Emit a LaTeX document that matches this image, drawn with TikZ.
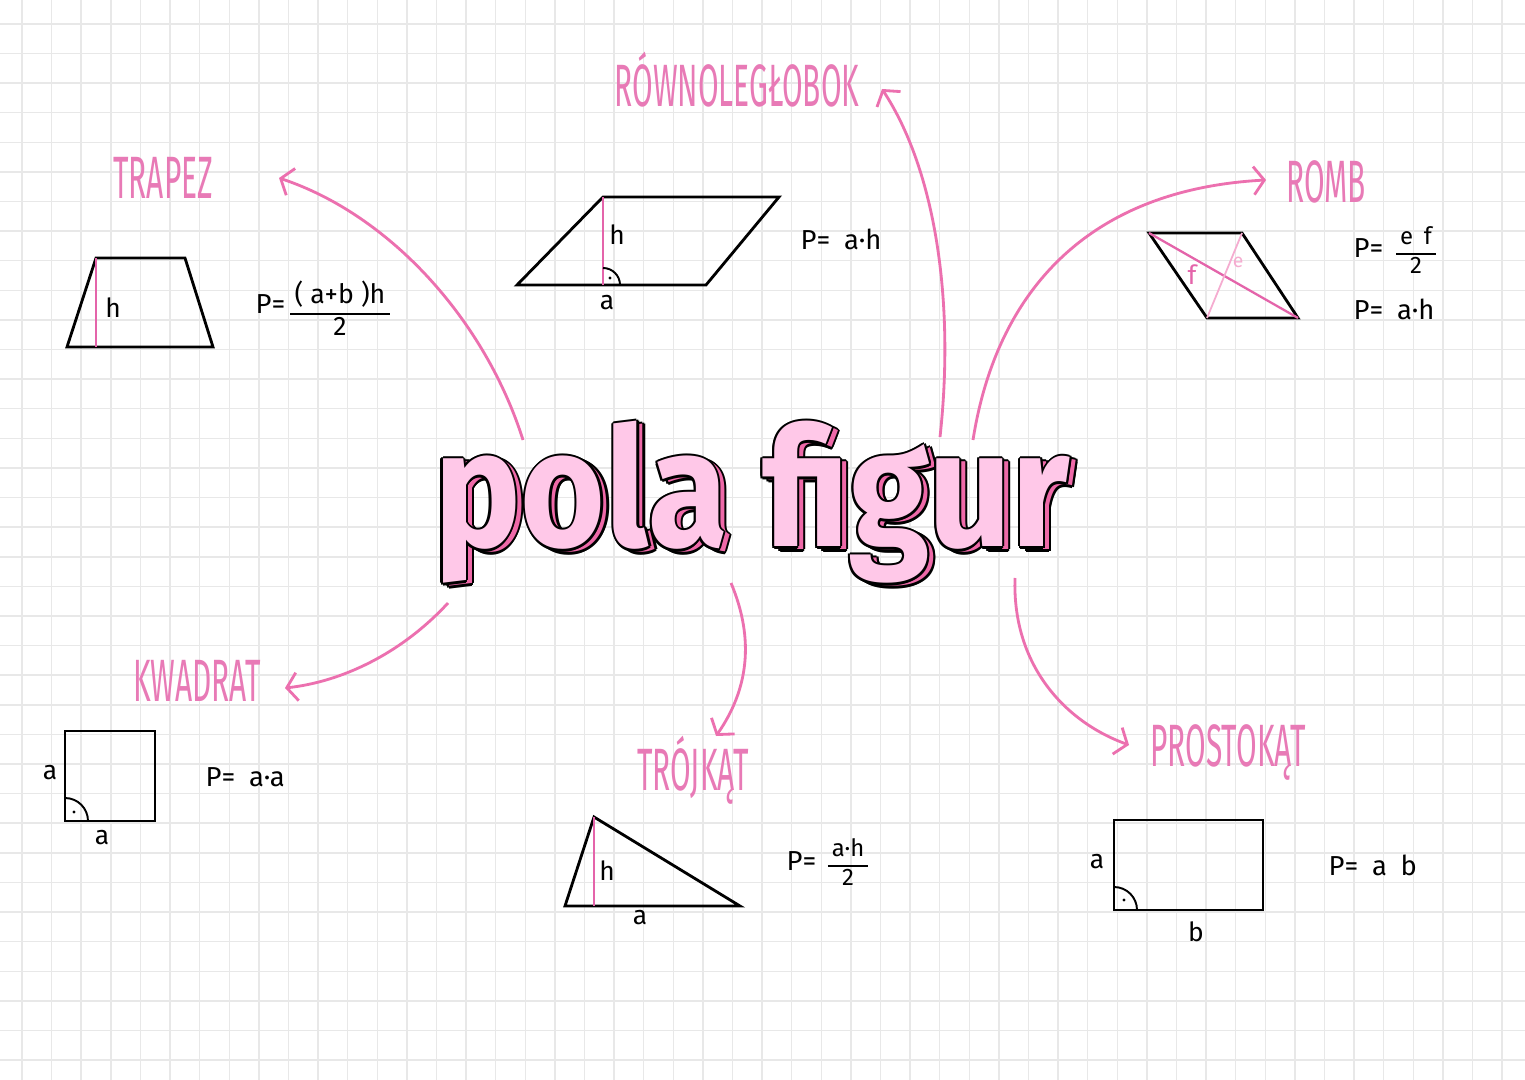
\documentclass[tikz,border=0pt]{standalone}
\usepackage{fontspec}
\setmainfont{Fira Sans}
\newfontfamily\headfont[FakeStretch=0.5]{Fira Sans}
\newfontfamily\titlefont[FakeStretch=0.88]{Fira Sans}
\usetikzlibrary{arrows.meta,calc}

\definecolor{labelpink}{RGB}{232,122,182}
\definecolor{arrowpink}{RGB}{236,112,175}
\definecolor{heightpink}{RGB}{228,100,170}
\definecolor{lightpink}{RGB}{245,172,208}
\definecolor{titlefill}{RGB}{255,200,232}
\definecolor{titleshade}{RGB}{238,105,168}
\definecolor{gridgray}{RGB}{232,232,232}

\newcommand{\fracbox}[2]{{\setlength{\arrayrulewidth}{0.6pt}\renewcommand{\arraystretch}{0.95}\begin{tabular}{@{\,}c@{\,}}#1\\\hline #2\end{tabular}}}
\newcommand{\titletext}{pola figur}

\begin{document}
\begin{tikzpicture}[x=0.01cm,y=-0.01cm,
  gridline/.style={gridgray,line width=0.4pt},
  figure/.style={black,line width=0.8pt,line join=miter},
  heightline/.style={heightpink,line width=0.65pt},
  corner/.style={black,line width=0.55pt},
  heading/.style={text=labelpink,anchor=base,font=\headfont\fontsize{17}{18}\selectfont},
  pointer/.style={arrowpink,line width=0.8pt,-{Straight Barb[length=3pt,width=8pt]}},
  formula/.style={anchor=base west,inner sep=0pt,font=\fontsize{7.8}{9}\selectfont},
  fracnode/.style={inner sep=0pt,font=\fontsize{6.8}{8}\selectfont},
  letter/.style={inner sep=0pt,font=\fontsize{7.5}{9}\selectfont},
  titlestyle/.style={anchor=base,inner sep=0pt,font=\titlefont\bfseries\fontsize{47}{50}\selectfont}]
\useasboundingbox (0,0) rectangle (1525,1080);
\fill[white] (0,0) rectangle (1525,1080);
\foreach \gx in {0,...,51}
  \draw[gridline] ({22+29.6*\gx},0) -- ({22+29.6*\gx},1080);
\foreach \gy in {0,...,36}
  \draw[gridline] (0,{24+29.6*\gy}) -- (1525,{24+29.6*\gy});

% title
\foreach \a in {0,45,...,315}
  \node[titlestyle,text=black] at ($(758,550)+(\a:2.2)$) {\titletext};
\node[titlestyle,text=titleshade] at (758,550) {\titletext};
\foreach \a in {0,45,...,315}
  \node[titlestyle,text=black] at ($(752,547)+(\a:2.2)$) {\titletext};
\node[titlestyle,text=titlefill] (title) at (752,547) {\titletext};

% headings
\node[heading] (rownoleglobok) at (737,107) {RÓWNOLEGŁOBOK};
\node[heading] (trapez) at (163,199) {TRAPEZ};
\node[heading] (romb) at (1326,203) {ROMB};
\node[heading] (kwadrat) at (197,702) {KWADRAT};
\node[heading] (trojkat) at (693,790) {TRÓJKĄT};
\node[heading] (prostokat) at (1228,766) {PROSTOKĄT};

% arrows
\coordinate (from rownoleglobok) at (940,437);
\coordinate (to rownoleglobok) at (882,89);
\coordinate (from trapez) at (523,440);
\coordinate (to trapez) at (279,178);
\coordinate (from romb) at (973,440);
\coordinate (to romb) at (1266,180);
\coordinate (from kwadrat) at (448,603);
\coordinate (to kwadrat) at (285,688);
\coordinate (from trojkat) at (731,583);
\coordinate (to trojkat) at (716,736);
\coordinate (from prostokat) at (1015,578);
\coordinate (to prostokat) at (1129,745);
\draw[pointer] (from rownoleglobok) .. controls (955,300) and (935,170) .. (to rownoleglobok);
\draw[pointer] (from trapez) .. controls (485,320) and (390,215) .. (to trapez);
\draw[pointer] (from romb) .. controls (995,300) and (1080,190) .. (to romb);
\draw[pointer] (from kwadrat) .. controls (400,655) and (340,682) .. (to kwadrat);
\draw[pointer] (from trojkat) .. controls (755,640) and (748,690) .. (to trojkat);
\draw[pointer] (from prostokat) .. controls (1012,665) and (1065,722) .. (to prostokat);

% trapez
\draw[figure] (67,347) -- (213,347) -- (185,258) -- (96,258) -- cycle;
\draw[heightline] (96,258) -- (96,347);
\node[letter] (trapez h) at (113,308) {h};
\node[formula] (trapez P) at (255,314) {P=};
\node[fracnode,font=\fontsize{7.6}{9}\selectfont] (trapez frac) at (340,313) {\fracbox{( a+b )h}{2}};

% rownoleglobok
\draw[figure] (517,285) -- (706,285) -- (779,197) -- (603,197) -- cycle;
\draw[heightline] (603,197) -- (603,285);
\draw[corner] (620,285) arc (0:-90:17);
\fill (610,278) circle (1.6);
\node[letter] (rown h) at (617,235) {h};
\node[letter] (rown a) at (607,303) {a};
\node[formula] (rown P) at (800,250) {P=\enspace a·h};

% romb
\draw[figure] (1149,233) -- (1242,233) -- (1298,318) -- (1207,318) -- cycle;
\draw[heightline] (1149,233) -- (1298,318);
\draw[lightpink,line width=0.5pt] (1242,233) -- (1207,318);
\node[letter,text=heightpink] (romb f) at (1192,275) {f};
\node[letter,text=lightpink,font=\fontsize{5.5}{6}\selectfont] (romb e) at (1238,262) {e};
\node[formula] (romb P1) at (1353,258) {P=};
\node[fracnode] (romb frac) at (1416,254) {\fracbox{e\;\,f}{2}};
\node[formula] (romb P2) at (1353,320) {P=\enspace a·h};

% kwadrat
\draw[figure] (65,731) rectangle (155,821);
\draw[corner] (88,821) arc (0:-90:23);
\fill (74,812) circle (1.6);
\node[letter] (kwadrat a1) at (50,773) {a};
\node[letter] (kwadrat a2) at (102,838) {a};
\node[formula] (kwadrat P) at (205,786) {P=\enspace a·a};

% trojkat
\draw[figure] (565,906) -- (740,906) -- (594,817) -- cycle;
\draw[heightline] (594,817) -- (594,906);
\node[letter] (trojkat h) at (607,871) {h};
\node[letter] (trojkat a) at (640,918) {a};
\node[formula] (trojkat P) at (786,870) {P=};
\node[fracnode] (trojkat frac) at (848,866) {\fracbox{a·h}{2}};

% prostokat
\draw[figure] (1114,820) rectangle (1263,910);
\draw[corner] (1137,910) arc (0:-90:23);
\fill (1124,900) circle (1.6);
\node[letter] (prostokat a) at (1097,862) {a};
\node[letter] (prostokat b) at (1196,932) {b};
\node[formula] (prostokat P) at (1328,875) {P=\enspace a\enspace b};
\end{tikzpicture}
\end{document}
